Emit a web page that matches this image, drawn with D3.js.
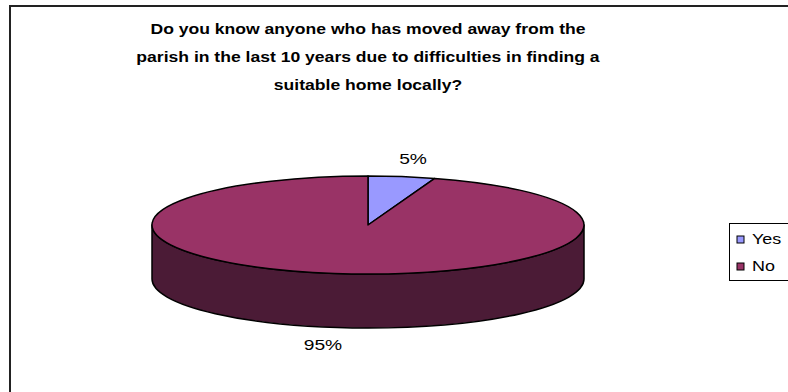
<!DOCTYPE html>
<html>
<head>
<meta charset="utf-8">
<script src="https://cdn.jsdelivr.net/npm/d3@7"></script>
<style>
  body { margin: 0; background: #fff; }
  text { font-family: "Liberation Sans", Arial, sans-serif; fill: #000; }
</style>
</head>
<body>
<svg width="788" height="392"></svg>
<script>
const categories = ["Yes", "No"];
const values = [5, 95];
const colors = ["#9999FF", "#993366"];
const sideColors = ["#4C4C80", "#4B1B36"];
const titleLines = [
  "Do you know anyone who has moved away from the",
  "parish in the last 10 years due to difficulties in finding a",
  "suitable home locally?"
];

const svg = d3.select("svg");
// the source picture is stretched sideways, so text is widened by this much
const stretch = 1.28;

// outer chart frame (right and bottom edges fall off the picture)
svg.append("rect")
  .attr("x", 10).attr("y", 6)
  .attr("width", 820).attr("height", 420)
  .attr("fill", "none")
  .attr("stroke", "#222")
  .attr("stroke-width", 2);

function widen(sel, f) {
  sel.each(function() {
    const w = this.getComputedTextLength();
    d3.select(this)
      .attr("textLength", w * (f || stretch))
      .attr("lengthAdjust", "spacingAndGlyphs");
  });
}

// title, first line fitted to its width in the picture, others scaled alike
const title = svg.append("g")
  .selectAll("text")
  .data(titleLines)
  .enter()
  .append("text")
  .attr("x", 368)
  .attr("y", (d, i) => 34 + i * 28)
  .attr("text-anchor", "middle")
  .attr("font-size", 15)
  .attr("font-weight", "bold")
  .text(d => d);
const titleFactor = 435 / title.node().getComputedTextLength();
title.call(widen, titleFactor);

// 3d pie
const cx = 368, cy = 225, rx = 216, ry = 49, depth = 54;
const k = ry / rx;
const d3depth = depth / k; // depth in the unscaled circle space

const data = categories.map((c, i) => ({ cat: c, value: values[i] }));
const pie = d3.pie().sort(null).value(d => d.value);
const arcs = pie(data);
const total = d3.sum(values);

const color = d3.scaleOrdinal().domain(categories).range(colors);
const sideColor = d3.scaleOrdinal().domain(categories).range(sideColors);

const g = svg.append("g")
  .attr("transform", `translate(${cx},${cy}) scale(1,${k})`);

const pt = a => [rx * Math.sin(a), -rx * Math.cos(a)];

function sidePath(a0, a1) {
  const s = Math.max(a0, Math.PI / 2);
  const e = Math.min(a1, Math.PI * 1.5);
  if (e <= s) return null;
  const p0 = pt(s), p1 = pt(e);
  const large = e - s > Math.PI ? 1 : 0;
  return `M${p0[0]},${p0[1]}A${rx},${rx} 0 ${large} 1 ${p1[0]},${p1[1]}` +
    `L${p1[0]},${p1[1] + d3depth}A${rx},${rx} 0 ${large} 0 ${p0[0]},${p0[1] + d3depth}Z`;
}

g.selectAll("path.side")
  .data(arcs.filter(a => sidePath(a.startAngle, a.endAngle)))
  .enter()
  .append("path")
  .attr("class", "side")
  .attr("d", a => sidePath(a.startAngle, a.endAngle))
  .attr("fill", a => sideColor(a.data.cat))
  .attr("stroke", "#000")
  .attr("stroke-width", 1.5)
  .attr("stroke-linejoin", "round")
  .attr("vector-effect", "non-scaling-stroke");

const arc = d3.arc().innerRadius(0).outerRadius(rx);
g.selectAll("path.top")
  .data(arcs)
  .enter()
  .append("path")
  .attr("class", "top")
  .attr("d", arc)
  .attr("fill", a => color(a.data.cat))
  .attr("stroke", "#000")
  .attr("stroke-width", 1.5)
  .attr("stroke-linejoin", "round")
  .attr("vector-effect", "non-scaling-stroke");

// percentage labels
const lrx = 288, lry = 67;
svg.append("g")
  .selectAll("text")
  .data(arcs)
  .enter()
  .append("text")
  .attr("x", a => cx + lrx * Math.sin((a.startAngle + a.endAngle) / 2))
  .attr("y", a => {
    const m = (a.startAngle + a.endAngle) / 2;
    const c = Math.cos(m);
    return cy - lry * c + (c < 0 ? depth : 0) + 5;
  })
  .attr("text-anchor", "middle")
  .attr("font-size", 15)
  .text(a => Math.round(a.data.value / total * 100) + "%")
  .call(widen);

// legend
const legend = svg.append("g");
legend.append("rect")
  .attr("x", 729.5).attr("y", 223.5)
  .attr("width", 80).attr("height", 57)
  .attr("fill", "#fff")
  .attr("stroke", "#000")
  .attr("stroke-width", 1);

const items = legend.selectAll("g.item")
  .data(categories)
  .enter()
  .append("g")
  .attr("transform", (d, i) => `translate(737,${236 + i * 27})`);
items.append("rect")
  .attr("width", 7).attr("height", 7)
  .attr("fill", d => color(d))
  .attr("stroke", "#000")
  .attr("stroke-width", 1);
items.append("text")
  .attr("x", 15).attr("y", 7.5)
  .attr("font-size", 14)
  .text(d => d)
  .call(widen);
</script>
</body>
</html>
